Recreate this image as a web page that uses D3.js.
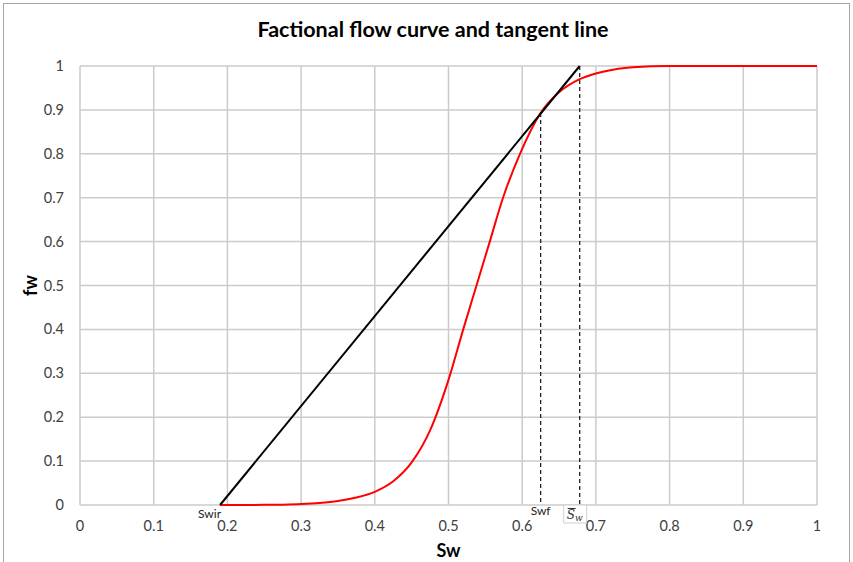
<!DOCTYPE html>
<html>
<head>
<meta charset="utf-8">
<script src="https://cdn.jsdelivr.net/npm/d3@7"></script>
<style>
body { margin: 0; background: #fff; }
svg { font-family: Lato, "Open Sans", sans-serif; }
.grid line { stroke: #cbcbcb; stroke-width: 1.5; }
.tick-label { font-size: 14.5px; fill: #404040; }
</style>
</head>
<body>
<div id="wrapper"></div>
<script>
// fractional flow curve
let swValues = [0.19, 0.25, 0.275, 0.30, 0.325, 0.35, 0.375, 0.40, 0.425, 0.45, 0.475, 0.50, 0.52, 0.538, 0.556, 0.574, 0.597, 0.625, 0.65, 0.678, 0.70, 0.725, 0.75, 0.775, 0.80, 0.85, 0.90, 0.95, 1.0];
let fwValues = [0, 0.0003, 0.0008, 0.002, 0.0045, 0.009, 0.017, 0.03, 0.054, 0.097, 0.17, 0.285, 0.40, 0.50, 0.60, 0.70, 0.80, 0.893, 0.94, 0.97, 0.983, 0.992, 0.997, 0.9995, 1, 1, 1, 1, 1];

// tangent line (Swir -> Sw bar at fw = 1)
let tangentSw = [0.19, 0.678];
let tangentFw = [0, 1];

// marker points
let swirValue = 0.19;
let swfValue = 0.625;
let swfFw = 0.893;
let swBarValue = 0.678;

let xTicks = [0, 0.1, 0.2, 0.3, 0.4, 0.5, 0.6, 0.7, 0.8, 0.9, 1];
let yTicks = [0, 0.1, 0.2, 0.3, 0.4, 0.5, 0.6, 0.7, 0.8, 0.9, 1];

let width = 853, height = 562;
let margin = {left: 80, right: 36, top: 66, bottom: 57};

let svg = d3.select('#wrapper').append('svg')
    .attr('width', width)
    .attr('height', height);

svg.append('rect')
    .attr('x', 3.5).attr('y', 3.5)
    .attr('width', width - 7).attr('height', height + 10)
    .attr('fill', '#fff')
    .attr('stroke', '#a6a6a6');

let xScale = d3.scaleLinear().domain([0, 1]).range([margin.left, width - margin.right]);
let yScale = d3.scaleLinear().domain([0, 1]).range([height - margin.bottom, margin.top]);

// grid
let grid = svg.append('g').classed('grid', true);
grid.selectAll('.v').data(xTicks).enter().append('line')
    .attr('x1', d => xScale(d)).attr('x2', d => xScale(d))
    .attr('y1', yScale(0)).attr('y2', yScale(1));
grid.selectAll('.h').data(yTicks).enter().append('line')
    .attr('x1', xScale(0)).attr('x2', xScale(1))
    .attr('y1', d => yScale(d)).attr('y2', d => yScale(d));

// tick labels
svg.selectAll('.xlab').data(xTicks).enter().append('text')
    .attr('class', 'tick-label')
    .attr('x', d => xScale(d))
    .attr('y', yScale(0) + 26)
    .attr('text-anchor', 'middle')
    .text(d => d);
svg.selectAll('.ylab').data(yTicks).enter().append('text')
    .attr('class', 'tick-label')
    .attr('x', xScale(0) - 16)
    .attr('y', d => yScale(d) + 5)
    .attr('text-anchor', 'end')
    .text(d => d);

// titles
svg.append('text')
    .attr('x', 433).attr('y', 37)
    .attr('text-anchor', 'middle')
    .style('font-size', '21.5px').style('font-weight', 'bold')
    .text('Factional flow curve and tangent line');
svg.append('text')
    .attr('x', xScale(0.5)).attr('y', 557)
    .attr('text-anchor', 'middle')
    .style('font-size', '18px').style('font-weight', 'bold')
    .text('Sw');
svg.append('text')
    .attr('transform', 'translate(37,' + yScale(0.5) + ') rotate(-90)')
    .attr('text-anchor', 'middle')
    .style('font-size', '18px').style('font-weight', 'bold')
    .text('fw');

// dashed verticals
let dashed = [
    {sw: swfValue, fw: swfFw},
    {sw: swBarValue, fw: 1}
];
svg.selectAll('.dash').data(dashed).enter().append('line')
    .attr('x1', d => xScale(d.sw)).attr('x2', d => xScale(d.sw))
    .attr('y1', d => yScale(d.fw)).attr('y2', yScale(0))
    .attr('stroke', '#222')
    .attr('stroke-width', 1.3)
    .attr('stroke-dasharray', '4,3');

// fw curve
let curveData = swValues.map((s, i) => ({sw: s, fw: fwValues[i]}));
let lineGen = d3.line()
    .x(d => xScale(d.sw))
    .y(d => yScale(d.fw))
    .curve(d3.curveMonotoneX);
svg.append('path')
    .datum(curveData)
    .attr('d', lineGen)
    .attr('fill', 'none')
    .attr('stroke', '#ff0000')
    .attr('stroke-width', 2);

// tangent
let tangentData = tangentSw.map((s, i) => ({sw: s, fw: tangentFw[i]}));
svg.append('path')
    .datum(tangentData)
    .attr('d', d3.line().x(d => xScale(d.sw)).y(d => yScale(d.fw)))
    .attr('fill', 'none')
    .attr('stroke', '#000')
    .attr('stroke-width', 2);

// point labels
svg.append('text')
    .attr('x', xScale(swirValue) + 1).attr('y', yScale(0) + 13)
    .attr('text-anchor', 'end')
    .style('font-size', '12px').attr('fill', '#222')
    .text('Swir');
svg.append('text')
    .attr('x', xScale(swfValue)).attr('y', yScale(0) + 10)
    .attr('text-anchor', 'middle')
    .style('font-size', '12px').attr('fill', '#222')
    .text('Swf');

let barG = svg.append('g').attr('transform', 'translate(' + xScale(swBarValue) + ',' + (yScale(0) + 0) + ')');
barG.append('rect')
    .attr('x', -16).attr('y', 0)
    .attr('width', 23).attr('height', 18)
    .attr('fill', '#fff')
    .attr('stroke', '#d0d0d0');
barG.append('line')
    .attr('x1', -12).attr('x2', -4)
    .attr('y1', 3.5).attr('y2', 3.5)
    .attr('stroke', '#333').attr('stroke-width', 1);
let barText = barG.append('text')
    .attr('x', -13).attr('y', 14)
    .style('font-family', '"DejaVu Serif", serif')
    .style('font-style', 'italic')
    .attr('fill', '#333');
barText.append('tspan').style('font-size', '12px').text('S');
barText.append('tspan').style('font-size', '9px').attr('dy', 2).text('w');
</script>
</body>
</html>
